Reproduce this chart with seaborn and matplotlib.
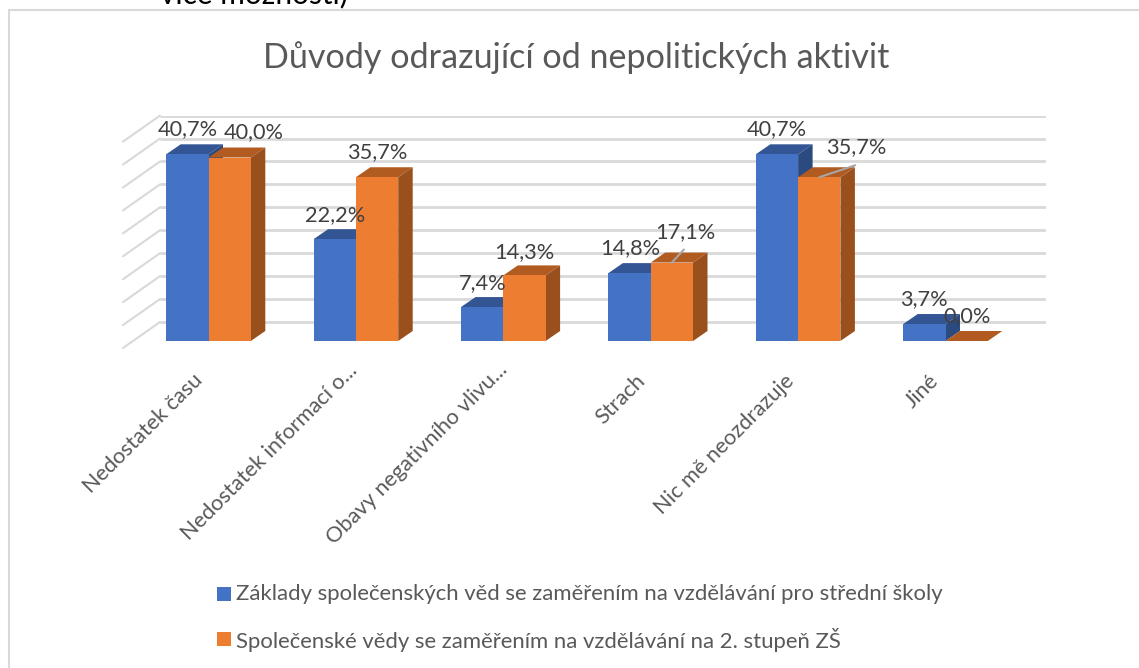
import pandas as pd
import seaborn as sns
import matplotlib.pyplot as plt
from matplotlib.patches import Polygon, Rectangle
from matplotlib.lines import Line2D
from matplotlib.transforms import ScaledTranslation

categories = ["Nedostatek času", "Nedostatek informací o...", "Obavy negativního vlivu...",
              "Strach", "Nic mě neozdrazuje", "Jiné"]
series_names = ["Základy společenských věd se zaměřením na vzdělávání pro střední školy",
                "Společenské vědy se zaměřením na vzdělávání na 2. stupeň ZŠ"]
values_a = [40.7, 22.2, 7.4, 14.8, 40.7, 3.7]
values_b = [40.0, 35.7, 14.3, 17.1, 35.7, 0.0]
grid_levels = [0, 5, 10, 15, 20, 25, 30, 35, 40, 45]

# label shifts in pixels from the top middle of each bar (moved by hand in the original)
label_shift_a = [(0, 25), (0, 24), (1, 24), (1, 25), (0, 25), (0, 25)]
label_shift_b = [(24, 25), (0, 25), (0, 23), (13, 30), (37, 30), (0, 25)]
leader_b = [None, None, None, (12, 13), (36, 12), None]
# tick label nudges in pixels
tick_shift = [(-16, 1), (-9, 11), (-6, 11), (-16, 0), (-14, 0), (-17, 0)]

W, H = 1139, 668
colors = ["#4472C4", "#ED7D31"]
tops = ["#335593", "#B15B20"]
sides = ["#2B4A80", "#99501C"]
grid_color = "#D9D9D9"

sns.set_theme(style="white")
plt.rcParams["font.family"] = ["Lato", "DejaVu Sans"]

df = pd.DataFrame({"category": categories * 2,
                   "value": values_a + values_b,
                   "series": [series_names[0]] * 6 + [series_names[1]] * 6})

fig = plt.figure(figsize=(W / 100, H / 100), dpi=100)
# axes box = the floor/wall area of the 3D chart, in pixels
left, right, top, bottom = 123, 1046, 116, 348
ax = fig.add_axes([left / W, 1 - bottom / H, (right - left) / W, (bottom - top) / H])

px_x = 147.4
px_y = 4.587
base_y = 341
first_x = 208.5

sns.barplot(data=df, x="category", y="value", hue="series", order=categories,
            hue_order=series_names, palette=colors, width=0.574, gap=0, saturation=1,
            legend=False, edgecolor="none", linewidth=0, ax=ax)
ax.set_xlim((left - first_x) / px_x, (right - first_x) / px_x)
ax.set_ylim((base_y - bottom) / px_y, (base_y - top) / px_y)

# 3D depth of the bars and of the walls, in data units
depth_x, depth_y = 14.5 / px_x, 10 / px_y
wall_shift = 19 / px_y
wall_x, wall_y = 37 / px_x, 26 / px_y
x0, x1 = ax.get_xlim()
for v in grid_levels:
    yb = v + wall_shift
    ax.plot([x0 + wall_x, x1], [yb, yb], color=grid_color, lw=2, zorder=0.5, solid_capstyle="butt")
    ax.plot([x0, x0 + wall_x], [yb - wall_y, yb], color=grid_color, lw=1.5, zorder=0.5, clip_on=False)

for s, cont in enumerate(ax.containers):
    for bar in cont:
        bar.set_zorder(3 + 2 * s)
        bx, bw, bh = bar.get_x(), bar.get_width(), bar.get_height()
        ax.add_patch(Polygon([(bx, bh), (bx + bw, bh), (bx + bw + depth_x, bh + depth_y), (bx + depth_x, bh + depth_y)],
                             closed=True, fc=tops[s], ec="none", zorder=2 + 2 * s))
        ax.add_patch(Polygon([(bx + bw, 0), (bx + bw + depth_x, depth_y), (bx + bw + depth_x, bh + depth_y), (bx + bw, bh)],
                             closed=True, fc=sides[s], ec="none", zorder=2 + 2 * s))

shifts = [label_shift_a, label_shift_b]
vals = [values_a, values_b]
for s, cont in enumerate(ax.containers):
    for i, bar in enumerate(cont):
        cx = bar.get_x() + bar.get_width() / 2
        dx, dy = shifts[s][i]
        ax.annotate(f"{vals[s][i]:.1f}%".replace(".", ","), xy=(cx, vals[s][i]), xytext=(dx, dy),
                    textcoords="offset pixels", ha="center", va="center",
                    fontsize=15.7, color="#404040", zorder=10, annotation_clip=False)
        if s == 1 and leader_b[i]:
            ax.annotate("", xy=(cx, vals[s][i]), xytext=leader_b[i], textcoords="offset pixels",
                        arrowprops=dict(arrowstyle="-", color="#A6A6A6", lw=1.5, shrinkA=0, shrinkB=0),
                        zorder=9)

ax.set_xlabel("")
ax.set_ylabel("")
ax.set_yticks([])
ax.set_xticks(range(len(categories)))
ax.set_xticklabels(categories, rotation=45, ha="right", rotation_mode="anchor",
                   fontsize=15.7, color="#595959")
ax.tick_params(axis="x", length=0, pad=16.5)
for lab, (sx, sy) in zip(ax.get_xticklabels(), tick_shift):
    lab.set_transform(lab.get_transform() + ScaledTranslation(sx / 100, sy / 100, fig.dpi_scale_trans))
sns.despine(ax=ax, left=True, bottom=True)
ax.patch.set_alpha(0)

fig.text(576 / W, 1 - 58 / H, "Důvody odrazující od nepolitických aktivit",
         ha="center", va="center", fontsize=24.6, color="#595959")
fig.text(254 / W, 1 - 3 / H, "více možností)", ha="center", va="baseline", fontsize=21.5, color="black")

# chart frame, open on the right
fig.add_artist(Line2D([9 / W, 9 / W], [0, 1 - 10 / H], color="#D9D9D9", lw=1.5))
fig.add_artist(Line2D([9 / W, 1], [1 - 10 / H, 1 - 10 / H], color="#D9D9D9", lw=1.5))

# legend rows
for s, y in enumerate([594, 639]):
    fig.add_artist(Rectangle((216.5 / W, 1 - (y + 7) / H), 14 / W, 14 / H, fc=colors[s], ec="none",
                             transform=fig.transFigure))
    fig.text(236 / W, 1 - (y + 0.5) / H, series_names[s], ha="left", va="center", fontsize=15.9, color="#595959")

fig.savefig("out.png", dpi=100)
